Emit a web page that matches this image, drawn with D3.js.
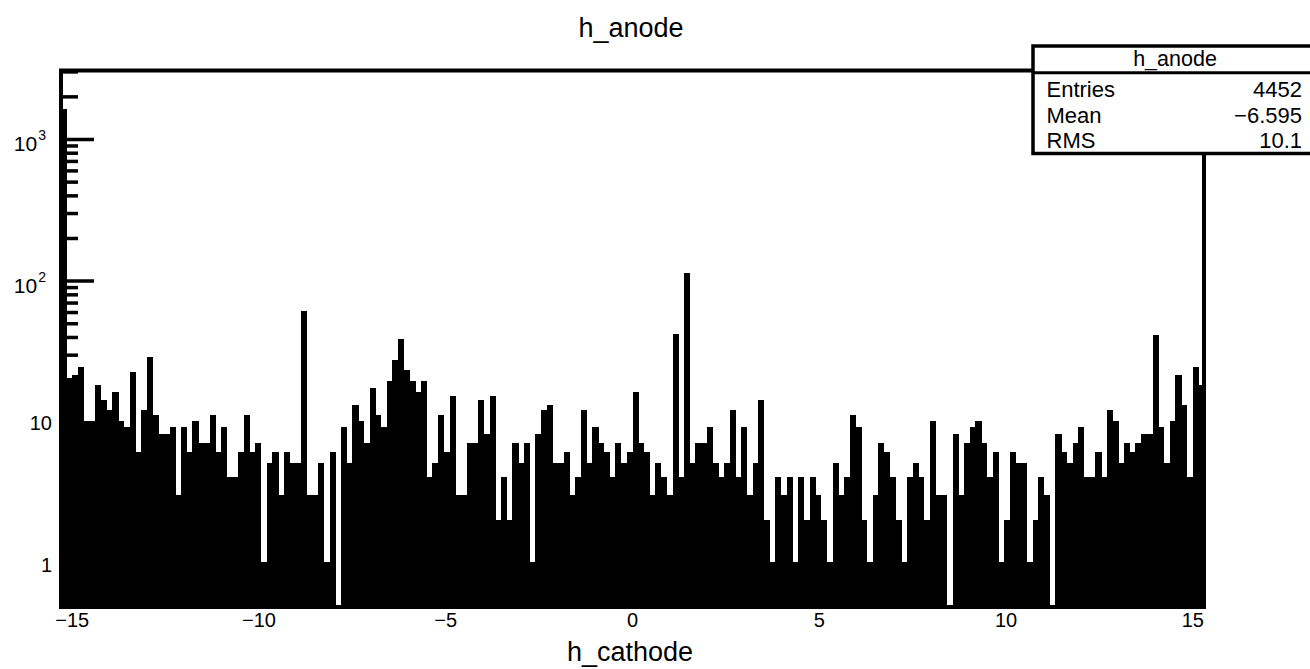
<!DOCTYPE html>
<html><head><meta charset="utf-8">
<script src="https://cdn.jsdelivr.net/npm/d3@7"></script>
<style>
body{margin:0;background:#fff}
svg{display:block}
text{font-family:"Liberation Sans",Arial,Helvetica,sans-serif;fill:#000}
</style>
</head><body>
<svg id="c" width="1310" height="669"></svg>
<script>
// ---------------- data ----------------
const histTitle = "h_anode";
const xTitle = "h_cathode";
const xMin = -15.3, xMax = 15.3;
const counts = [
 1600,20,21,24,10,10,18,14,12,16,
 10,9,22,6,12,28,11,8,8,9,
 3,9,6,10,7,7,11,6,9,4,
 4,6,11,6,7,1,5,6,3,6,
 5,5,60,3,3,5,1,6,0,9,
 5,13,10,7,17,11,9,19,27,38,
 23,19,16,19,4,5,11,6,15,3,
 3,7,7,14,8,15,2,4,2,7,
 5,7,1,8,12,13,5,5,6,3,
 4,12,5,9,7,6,4,7,5,6,
 16,7,6,3,5,4,3,41,4,110,
 5,7,7,9,5,4,5,12,4,9,
 3,5,14,2,1,4,3,4,1,4,
 2,4,3,2,1,5,3,4,11,9,
 2,1,3,7,6,4,2,1,4,5,
 4,2,10,3,3,0,8,3,7,9,
 10,7,4,6,1,2,6,5,5,1,
 2,4,3,0,8,6,5,7,9,4,
 4,6,4,12,10,5,7,6,7,8,
 8,40,9,5,10,21,13,4,24,18
];
const xTickMajor = [-15,-10,-5,0,5,10,15];
const xTickMinor = d3.range(-15,16,1);
const yDecades = [1,10,100,1000];
const statsLabels = ["Entries","Mean","RMS"];
const statsValues = ["4452","\u22126.595","10.1"];

// ---------------- layout ----------------
const frame = {l:61, r:1204, t:70.5, b:607};
const yMinV = 0.5, yMaxV = 3070;
const barLift = 2;

const svg = d3.select("#c");
const x = d3.scaleLinear().domain([xMin,xMax]).range([frame.l,frame.r]);
const y = d3.scaleLog().domain([yMinV,yMaxV]).range([frame.b,frame.t]);
const nb = counts.length;
const bw = (xMax-xMin)/nb;
const bins = counts.map((c,i)=>({lo:xMin+i*bw, hi:xMin+(i+1)*bw, c}));

// bars
const g = svg.append("g").attr("shape-rendering","crispEdges");
g.selectAll("rect").data(bins.filter(d=>d.c>0)).join("rect")
  .attr("x",d=>x(d.lo))
  .attr("width",d=>x(d.hi)-x(d.lo)+0.4)
  .attr("y",d=>Math.max(frame.t, y(d.c)-barLift))
  .attr("height",d=>frame.b-Math.max(frame.t, y(d.c)-barLift))
  .attr("fill","#000");

// frame
svg.append("rect").attr("x",frame.l).attr("y",frame.t)
  .attr("width",frame.r-frame.l).attr("height",frame.b-frame.t)
  .attr("fill","none").attr("stroke","#000").attr("stroke-width",4);

// y ticks (log)
const yMinor = [];
[0.1,1,10,100,1000].forEach(d=>{for(let k=2;k<=9;k++){const v=d*k; if(v>=yMinV && v<=yMaxV) yMinor.push(v);}});
svg.append("g").selectAll("line").data(yMinor).join("line")
  .attr("x1",frame.l).attr("x2",frame.l+17)
  .attr("y1",d=>y(d)).attr("y2",d=>y(d))
  .attr("stroke","#000").attr("stroke-width",3.5);
svg.append("g").selectAll("line").data(yDecades).join("line")
  .attr("x1",frame.l).attr("x2",frame.l+33)
  .attr("y1",d=>y(d)).attr("y2",d=>y(d))
  .attr("stroke","#000").attr("stroke-width",3.5);

// x ticks
svg.append("g").selectAll("line").data(xTickMinor).join("line")
  .attr("x1",d=>x(d)).attr("x2",d=>x(d))
  .attr("y1",frame.b).attr("y2",frame.b-8)
  .attr("stroke","#000").attr("stroke-width",3);
svg.append("g").selectAll("line").data(xTickMajor).join("line")
  .attr("x1",d=>x(d)).attr("x2",d=>x(d))
  .attr("y1",frame.b).attr("y2",frame.b-16)
  .attr("stroke","#000").attr("stroke-width",3);

// x labels
svg.append("g").selectAll("text").data(xTickMajor).join("text")
  .attr("x",d=>x(d)).attr("y",627)
  .attr("text-anchor","middle").attr("font-size",20)
  .text(d=>d<0?"\u2212"+Math.abs(d):String(d));

// y labels
const yl = svg.append("g");
yDecades.forEach(d=>{
  const e = Math.round(Math.log10(d));
  if(e<2){
    yl.append("text").attr("x",52).attr("y",y(d)+7.5)
      .attr("text-anchor","end").attr("font-size",20).text(String(d));
  } else {
    const t = yl.append("text").attr("x",46).attr("y",y(d)+12)
      .attr("text-anchor","end").attr("font-size",21);
    t.append("tspan").text("10");
    t.append("tspan").attr("dy",-11).attr("dx",1).attr("font-size",14).text(String(e));
  }
});

// titles
svg.append("text").attr("x",631).attr("y",37).attr("text-anchor","middle")
  .attr("font-size",27).text(histTitle);
svg.append("text").attr("x",630).attr("y",661).attr("text-anchor","middle")
  .attr("font-size",27).text(xTitle);

// stats box
const sb = {l:1033, t:46, r:1318, b:153.5, sep:72.7};
svg.append("rect").attr("x",sb.l).attr("y",sb.t).attr("width",sb.r-sb.l).attr("height",sb.b-sb.t)
  .attr("fill","#fff").attr("stroke","#000").attr("stroke-width",3.5);
svg.append("line").attr("x1",sb.l).attr("x2",sb.r).attr("y1",sb.sep).attr("y2",sb.sep)
  .attr("stroke","#000").attr("stroke-width",3);
svg.append("text").attr("x",1175).attr("y",66).attr("text-anchor","middle")
  .attr("font-size",21.5).text(histTitle);
const rowY = [96.5,123,147.5];
statsLabels.forEach((s,i)=>{
  svg.append("text").attr("x",1046.5).attr("y",rowY[i]).attr("font-size",22).text(s);
  svg.append("text").attr("x",1302).attr("y",rowY[i]).attr("text-anchor","end").attr("font-size",22).text(statsValues[i]);
});
</script>
</body></html>
